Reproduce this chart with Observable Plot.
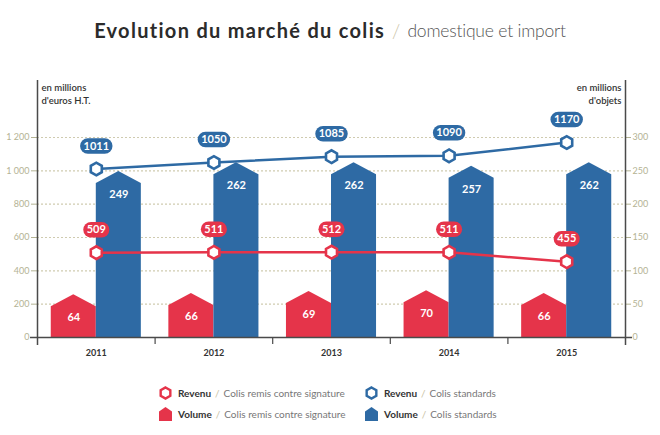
<!DOCTYPE html>
<html>
<head>
<meta charset="utf-8">
<script src="https://cdn.jsdelivr.net/npm/d3@7"></script>
<script src="https://cdn.jsdelivr.net/npm/@observablehq/plot@0.6"></script>
<style>
  html, body { margin: 0; padding: 0; background: #fff; }
  body { width: 660px; height: 435px; font-family: Lato, "Open Sans", sans-serif; position: relative; overflow: hidden; }
  #title { height: 60px; display: flex; align-items: center; justify-content: center; }
  #title .main { font-weight: 700; color: #2b2b2b; font-size: 20px; letter-spacing: 1.3px; }
  #title .sep { color: #c9c1a3; margin: 0 7px; font-weight: 300; font-size: 19px; }
  #title .sub { color: #555; font-weight: 300; font-size: 17.5px; letter-spacing: -0.2px; }
  #chart { height: 305px; }
  #legend { position: relative; height: 70px; font-size: 10px; }
  .item { position: absolute; display: flex; align-items: center; white-space: nowrap; }
  .item svg { margin-right: 6px; }
  .item b { color: #333; font-weight: 700; }
  .item .sl { color: #c9c1a3; margin: 0 4px; }
  .item .t { color: #777; }
</style>
</head>
<body>
<div id="title"><span class="main">Evolution du marché du colis</span><span class="sep">/</span><span class="sub">domestique et import</span></div>
<div id="chart"></div>
<div id="legend"></div>
<script>
// ---- data ----
const years = ["2011", "2012", "2013", "2014", "2015"];
const revenuSignature = [509, 511, 512, 511, 455];     // millions d'euros H.T.
const revenuStandards = [1011, 1050, 1085, 1090, 1170]; // millions d'euros H.T.
const volumeSignature = [64, 66, 69, 70, 66];           // millions d'objets
const volumeStandards = [249, 262, 262, 257, 262];      // millions d'objets
const leftTicks = [0, 200, 400, 600, 800, 1000, 1200];
const rightTicks = [0, 50, 100, 150, 200, 250, 300];
const unitLeft = "en millions\nd'euros H.T.";
const unitRight = "en millions\nd'objets";
const legendLabels = ["Colis remis contre signature", "Colis standards"];

// ---- style ----
const RED = "#e5344a";
const BLUE = "#2e6aa4";
const BEIGE = "#b4b394";
const GRID = "#cfcbb0";
const AXIS = "#4a4a4a";
const ratio = 4; // right axis (objets) -> left axis (euros)
const yMax = 1542;
const barW = 0.383;      // bar width in x units (band = 1)
const roofUnits = 72;    // roof height in left-axis units (~12px)

const mid = i => i + 0.5;
const bars = [];
years.forEach((y, i) => {
  [[volumeSignature, RED, -1], [volumeStandards, BLUE, 1]].forEach(([arr, color, side], k) => {
    const v = arr[i] * ratio;
    const x0 = side < 0 ? mid(i) - barW : mid(i);
    const x1 = side < 0 ? mid(i) : mid(i) + barW;
    const id = y + "-" + k;
    bars.push({id, color, x: x0, y: v - roofUnits});
    bars.push({id, color, x: (x0 + x1) / 2, y: v});
    bars.push({id, color, x: x1, y: v - roofUnits});
  });
});
const barLabels = [];
years.forEach((y, i) => {
  barLabels.push({x: mid(i) - barW / 2, y: volumeSignature[i] * ratio, v: volumeSignature[i]});
  barLabels.push({x: mid(i) + barW / 2, y: volumeStandards[i] * ratio, v: volumeStandards[i]});
});
const revRed = revenuSignature.map((v, i) => ({x: mid(i), y: v}));
const revBlue = revenuStandards.map((v, i) => ({x: mid(i), y: v}));
const half = d => (String(d.y).length >= 4 ? 0.072 : 0.045);

function lineMarks(data, color) {
  return [
    Plot.line(data, {x: "x", y: "y", stroke: color, strokeWidth: 2.5}),
    Plot.dot(data, {x: "x", y: "y", symbol: "hexagon", r: 5.5, fill: "white", stroke: color, strokeWidth: 2.6}),
    Plot.link(data, {x1: d => d.x - half(d), x2: d => d.x + half(d), y1: "y", y2: "y", dy: -23, stroke: color, strokeWidth: 15.5, strokeLinecap: "round"}),
    Plot.text(data, {x: "x", y: "y", dy: -23, text: d => String(d.y), fill: "white", fontWeight: "bold", fontSize: 11})
  ];
}

const plot = Plot.plot({
  width: 660,
  height: 305,
  marginLeft: 37,
  marginRight: 35,
  marginTop: 20,
  marginBottom: 28,
  style: {fontFamily: "Lato, 'Open Sans', sans-serif", fontSize: "9px", background: "white", overflow: "visible"},
  x: {domain: [0, 5], label: null},
  y: {domain: [0, yMax], label: null},
  marks: [
    Plot.gridY(leftTicks.filter(d => d > 0), {stroke: GRID, strokeOpacity: 1, strokeDasharray: "2,2", strokeWidth: 1.2}),
    Plot.areaY(bars, {x: "x", y1: 0, y2: "y", z: "id", fill: "color", curve: "linear"}),
    Plot.text(barLabels, {x: "x", y: "y", dy: 23, text: d => String(d.v), fill: "white", fontWeight: "bold", fontSize: 11}),
    ...lineMarks(revRed, RED),
    ...lineMarks(revBlue, BLUE),
    Plot.axisY(leftTicks, {anchor: "left", tickSize: 6, tickPadding: 2, color: BEIGE, label: null,
      tickFormat: d => d3.format(",")(d).replace(/,/g, " ")}),
    Plot.axisY(rightTicks.map(v => v * ratio), {anchor: "right", tickSize: 5, tickPadding: 2, color: BEIGE, label: null,
      tickFormat: d => String(d / ratio)}),
    Plot.axisX(years.map((_, i) => mid(i)), {tickSize: 0, tickPadding: 12, label: null, fill: "#333", fontWeight: "bold",
      tickFormat: d => years[Math.floor(d)]}),
    Plot.axisX([1, 2, 3, 4], {tickSize: 7, label: null, stroke: AXIS, strokeWidth: 1.2, tickFormat: () => ""}),
    Plot.ruleX([0, 5], {stroke: AXIS, strokeWidth: 1.5, insetBottom: -8}),
    Plot.ruleY([0], {stroke: AXIS, strokeWidth: 1.5, insetLeft: -7, insetRight: -7}),
    Plot.text([unitLeft], {frameAnchor: "top-left", dx: 4, dy: 2, fill: "#333", fontWeight: 600, fontSize: 9.5, lineHeight: 1.3}),
    Plot.text([unitRight], {frameAnchor: "top-right", dx: -4, dy: 2, fill: "#333", fontWeight: 600, fontSize: 9.5, lineHeight: 1.3})
  ]
});
document.getElementById("chart").appendChild(plot);

// ---- legend ----
const hex = c => `<svg width="13" height="14" viewBox="-7 -7.5 14 15"><polygon points="0,-6 5.2,-3 5.2,3 0,6 -5.2,3 -5.2,-3" fill="white" stroke="${c}" stroke-width="2.6"/></svg>`;
const house = c => `<svg width="13" height="14" viewBox="0 0 13 14"><polygon points="0,4.5 6.5,0 13,4.5 13,14 0,14" fill="${c}"/></svg>`;
const legend = document.getElementById("legend");
const items = [
  {icon: hex(RED), name: "Revenu", label: legendLabels[0], left: 159, top: 28},
  {icon: hex(BLUE), name: "Revenu", label: legendLabels[1], left: 365, top: 28},
  {icon: house(RED), name: "Volume", label: legendLabels[0], left: 159, top: 49},
  {icon: house(BLUE), name: "Volume", label: legendLabels[1], left: 365, top: 49}
];
items.forEach(it => {
  const d = document.createElement("div");
  d.className = "item";
  d.style.left = it.left + "px";
  d.style.top = (it.top - 7) + "px";
  d.innerHTML = `${it.icon}<b>${it.name}</b><span class="sl">/</span><span class="t">${it.label}</span>`;
  legend.appendChild(d);
});
</script>
</body>
</html>
